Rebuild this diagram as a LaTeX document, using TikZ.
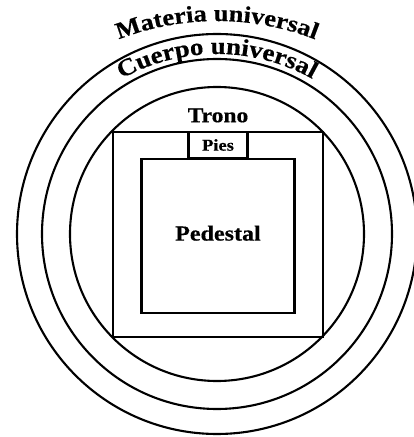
\documentclass[tikz,border=0pt]{standalone}
\usepackage{fontspec}
\setmainfont{Liberation Serif}
\newfontfamily\widefont{Liberation Serif}[FakeStretch=1.12, FakeBold=0.5]
\usetikzlibrary{positioning, decorations.text}
\tikzstyle{ring} = [draw=black, line width=2.1pt]
\tikzstyle{box} = [rectangle, draw=black, line width=2.1pt, inner sep=0pt, text centered]
\tikzstyle{arctext} = [decorate, decoration={text along path, text align=center, text color=black}]

\begin{document}
\begin{tikzpicture}[x=1pt, y=1pt]
  \useasboundingbox (0,0) rectangle (414,437);
  \clip (0,0) rectangle (414,437);
  \coordinate (centre) at (217,203);
  \coordinate (materiac) at (217,146);
  \coordinate (cuerpoc) at (217,188);

  % the three rings
  \draw[ring] (centre) circle[radius=200pt];
  \draw[ring] (centre) circle[radius=175pt];
  \draw[ring] (centre) circle[radius=147pt];

  % titles along the top
  \path[arctext, decoration={text={|\widefont\bfseries\fontsize{23.5}{23.5}\selectfont|Materia universal}}]
    ([shift={(125:270pt)}]materiac) arc[start angle=125, end angle=55, radius=270pt];
  \path[arctext, decoration={text={|\widefont\bfseries\fontsize{24}{24}\selectfont|Cuerpo universal}}]
    ([shift={(150:195pt)}]cuerpoc) arc[start angle=150, end angle=30, radius=195pt];

  % throne, feet and pedestal
  \node[box, minimum width=210pt, minimum height=205pt] (trono) at (218,202.5) {};
  \node[box, minimum width=59pt, minimum height=26pt, font=\widefont\bfseries\fontsize{16.5}{16.5}\selectfont, below=0pt of trono.north] (pies) {Pies};
  \node[box, minimum width=153pt, minimum height=154pt, font=\widefont\bfseries\fontsize{21.5}{21.5}\selectfont, below=0pt of pies, yshift=1pt] (pedestal) {\raisebox{6pt}{Pedestal}};
  \node[font=\widefont\bfseries\fontsize{21}{21}\selectfont, above=5pt of trono.north] (tronotext) {Trono};
\end{tikzpicture}
\end{document}
